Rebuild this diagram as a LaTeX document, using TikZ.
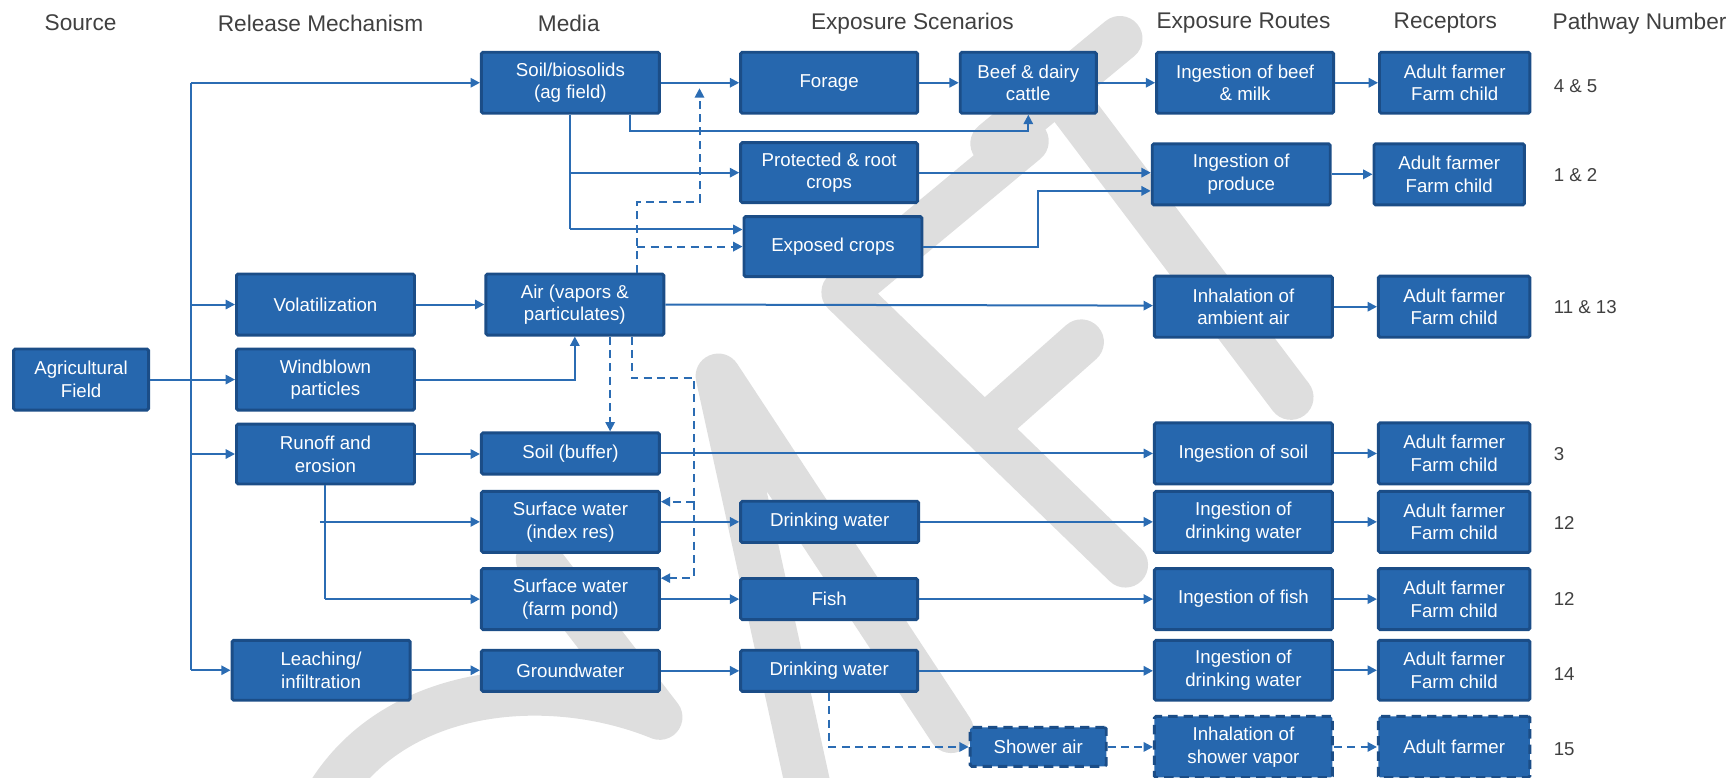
\documentclass[tikz,border=0pt]{standalone}
\usepackage{fontspec}
\setmainfont{Liberation Sans}
\usetikzlibrary{arrows.meta,calc}
\definecolor{boxfill}{HTML}{2667AE}
\definecolor{boxline}{HTML}{1B4D87}
\definecolor{conn}{HTML}{2B6CB3}
\definecolor{hdr}{HTML}{404040}
\definecolor{wm}{HTML}{DEDEDE}
\newcommand\bx[7][]{\node[box,#1,minimum width={(#5-#3)*0.8275pt-2.2pt},minimum height={(#6-#4)*0.8275pt-2.2pt}] (#2) at ({(#3+#5)/2},{(#4+#6)/2}) {#7};}
\begin{document}
\begin{tikzpicture}[x=0.8275pt,y=-0.8275pt,
 box/.style={draw=boxline,fill=boxfill,line width=2.2pt,rounded corners=1.2pt,text=white,align=center,inner sep=0pt,font=\fontsize{14}{17}\selectfont},
 dbox/.style={dash pattern=on 7pt off 4.5pt},
 ln/.style={draw=conn,line width=1.5pt},
 arr/.style={ln,-{Triangle[length=7pt,width=7pt]}},
 darr/.style={arr,dash pattern=on 6pt off 4pt},
 hd/.style={text=hdr,font=\fontsize{17}{20}\selectfont,inner sep=0pt},
 num/.style={text=hdr,font=\fontsize{14}{17}\selectfont,inner sep=0pt,anchor=west},
 wmark/.style={draw=wm,line width=34pt,line cap=round,line join=round}]
\useasboundingbox (0,0) rectangle (1568,705);
% watermark (drawn directly)
\draw[wmark] (900,130) -- (1015,35) (960,82) -- (1170,360);
\draw[wmark] (930,128) -- (765,265) -- (1020,512) (893,387) -- (980,310);
\draw[wmark] (745,770) -- (651,341) -- (862,662);
\draw[wmark] (298,720) .. controls (360,620) and (500,610) .. (598,650) (488,507) -- (598,650);
% headers
\node[hd] (hsrc) at (73,21) {Source};
\node[hd] (hrel) at (290.5,21) {Release Mechanism};
\node[hd] (hmed) at (515.5,21) {Media};
\node[hd] (hsce) at (827,21) {Exposure Scenarios};
\node[hd] (hrou) at (1127,21) {Exposure Routes};
\node[hd] (hrec) at (1310,21) {Receptors};
\node[hd,anchor=west] (hpat) at (1407,21) {Pathway Number};
% boxes
\bx{agf}{11}{315}{136}{373}{Agricultural\\Field}
\bx{vol}{213}{247}{377}{305}{Volatilization}
\bx{wind}{213}{315}{377}{373}{Windblown\\particles}
\bx{run}{213}{383}{377}{440}{Runoff and\\erosion}
\bx{leach}{209}{579}{373}{636}{Leaching/\\infiltration}
\bx{soil}{435}{46}{599}{104}{Soil/biosolids\\(ag field)}
\bx{air}{439}{247}{603}{305}{Air (vapors \&\\particulates)}
\bx{soilb}{435}{391}{599}{431}{Soil (buffer)}
\bx{swi}{435}{444}{599}{502}{Surface water\\(index res)}
\bx{swp}{435}{514}{599}{572}{Surface water\\(farm pond)}
\bx{gw}{435}{588}{599}{628}{Groundwater}
\bx{forage}{670}{46}{833}{104}{Forage}
\bx{beef}{869}{46}{995}{104}{Beef \& dairy\\cattle}
\bx{prot}{670}{128}{833}{185}{Protected \& root\\crops}
\bx{expo}{673}{195}{837}{252}{Exposed crops}
\bx{dws}{670}{453}{834}{493}{Drinking water}
\bx{fish}{670}{523}{833}{563}{Fish}
\bx{dwg}{670}{588}{833}{628}{Drinking water}
\bx[dbox]{shower}{878}{658}{1004}{696}{Shower air}
\bx{ibeef}{1047}{46}{1210}{104}{Ingestion of beef\\\& milk}
\bx{iprod}{1043}{129}{1207}{187}{Ingestion of\\produce}
\bx{iair}{1045}{249}{1209}{307}{Inhalation of\\ambient air}
\bx{isoil}{1045}{382}{1209}{440}{Ingestion of soil}
\bx{idws}{1045}{444}{1209}{502}{Ingestion of\\drinking water}
\bx{ifish}{1045}{514}{1209}{572}{Ingestion of fish}
\bx{idwg}{1045}{579}{1209}{636}{Ingestion of\\drinking water}
\bx[dbox]{ishow}{1045}{648}{1209}{706}{Inhalation of\\shower vapor}
\bx{r1}{1249}{46}{1388}{104}{Adult farmer\\Farm child}
\bx{r2}{1244}{129}{1383}{187}{Adult farmer\\Farm child}
\bx{r3}{1248}{249}{1388}{307}{Adult farmer\\Farm child}
\bx{r4}{1248}{382}{1388}{440}{Adult farmer\\Farm child}
\bx{r5}{1248}{444}{1388}{502}{Adult farmer\\Farm child}
\bx{r6}{1248}{514}{1388}{572}{Adult farmer\\Farm child}
\bx{r7}{1248}{579}{1388}{636}{Adult farmer\\Farm child}
\bx[dbox]{r8}{1248}{648}{1388}{706}{Adult farmer}
% pathway numbers
\node[num] (n1) at (1408,78) {4 \& 5};
\node[num] (n2) at (1408,159) {1 \& 2};
\node[num] (n3) at (1408,278.5) {11 \& 13};
\node[num] (n4) at (1408,411.5) {3};
\node[num] (n5) at (1408,474) {12};
\node[num] (n6) at (1408,543) {12};
\node[num] (n7) at (1408,611) {14};
\node[num] (n8) at (1408,679) {15};
% trunk from agricultural field
\coordinate (ttop) at (173,75);
\coordinate (tbot) at (173,607.5);
\draw[ln] (ttop) -- (tbot);
\draw[arr] (agf.east) -- (wind.west);
\draw[arr] (ttop) -- (soil.west);
\draw[arr] (ttop |- vol.west) -- (vol.west);
\draw[arr] (ttop |- run.west) -- (run.west);
\draw[arr] (tbot) -- (leach.west);
% release to media
\draw[arr] (vol.east) -- (air.west);
\draw[arr] (wind.east) -| (air.south);
\draw[arr] (run.east) -- (run.east -| soilb.west);
\draw[ln] (run.south) -- (run.south |- swp.west);
\draw[arr] (run.south |- swp.west) -- (swp.west);
\draw[arr] ($(run.south |- swi.west)+(-5,0)$) -- (swi.west);
\draw[arr] (leach.east) -- (leach.east -| gw.west);
% media to scenarios
\draw[arr] (soil.east) -- (forage.west);
\draw[arr] ($(soil.south)+(54,0)$) -- ++(0,14.7) -| (beef.south);
\draw[ln] (soil.south) -- ($(soil.south |- expo.west)+(0,-15.5)$);
\draw[arr] (soil.south |- prot.west) -- (prot.west);
\draw[arr] ($(soil.south |- expo.west)+(0,-15.5)$) -- ($(expo.west)+(0,-15.5)$);
\draw[darr] ($(air.north)+(56,0)$) |- ($(expo.west)+(0,0)$);
\draw[darr] ($(air.north)+(56,0)$) -- ++(0,-64) coordinate (d1) -- ++(57,0) -- ++(0,-103);
\draw[darr] ($(air.south)+(32,0)$) -- ($(soilb.north)+(36,0)$);
\draw[darr] ($(air.south)+(51.5,0)$) -- ++(0,37.6) -- ++(56.3,0) coordinate (d2) -- (d2 |- swi.north) -- ($(d2 |- swi.north)+(0,10.7)$) -- ($(swi.north east)+(0,10.7)$);
\draw[darr] ($(d2 |- swi.north)+(0,10.7)$) -- ($(d2 |- swp.north)+(0,10)$) -- ($(swp.north east)+(0,10)$);
\draw[arr] (swi.east) -- (swi.east -| dws.west);
\draw[arr] (swp.east) -- (swp.east -| fish.west);
\draw[arr] (gw.east) -- (dwg.west);
\draw[darr] (dwg.south) |- (shower.west);
% scenarios to routes
\draw[arr] (forage.east) -- (beef.west);
\draw[arr] (beef.east) -- (ibeef.west);
\draw[arr] (prot.east) -- (prot.east -| iprod.west);
\draw[arr] (expo.east) -- ++(103.5,0) |- ($(iprod.west)+(0,15)$);
\draw[arr] (air.east) -- ($(iair.west)+(0,-1)$);
\draw[arr] (soilb.east) -- (soilb.east -| isoil.west);
\draw[arr] (dws.east) -- (dws.east -| idws.west);
\draw[arr] (fish.east) -- (fish.east -| ifish.west);
\draw[arr] (dwg.east) -- (dwg.east -| idwg.west);
\draw[darr] (shower.east) -- (shower.east -| ishow.west);
% routes to receptors
\draw[arr] (ibeef.east) -- (r1.west);
\draw[arr] (iprod.east) -- (r2.west);
\draw[arr] (iair.east) -- (r3.west);
\draw[arr] (isoil.east) -- (r4.west);
\draw[arr] (idws.east) -- (r5.west);
\draw[arr] (ifish.east) -- (r6.west);
\draw[arr] (idwg.east) -- (r7.west);
\draw[darr] (ishow.east) -- (ishow.east -| r8.west);
\end{tikzpicture}
\end{document}
